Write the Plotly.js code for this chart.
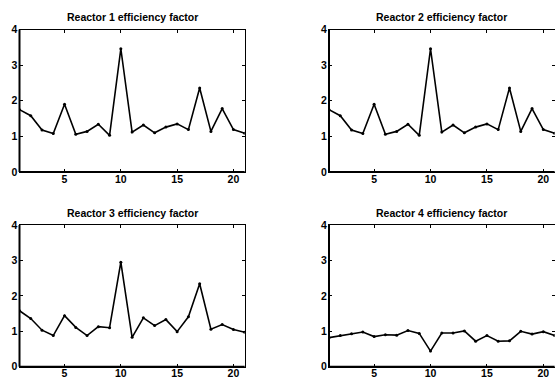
<!DOCTYPE html>
<html>
<head>
<meta charset="utf-8">
<script src="https://cdn.plot.ly/plotly-3.0.1.min.js"></script>
<style>html,body{margin:0;padding:0;background:#fff;}#chart{width:555px;height:379px;}</style>
</head>
<body>
<div id="chart"></div>
<script>
const samples = [1,2,3,4,5,6,7,8,9,10,11,12,13,14,15,16,17,18,19,20,21];
const titles = ["Reactor 1 efficiency factor","Reactor 2 efficiency factor","Reactor 3 efficiency factor","Reactor 4 efficiency factor"];
const reactor1 = [1.75,1.58,1.18,1.08,1.90,1.06,1.14,1.34,1.03,3.46,1.12,1.32,1.10,1.26,1.35,1.19,2.36,1.14,1.78,1.19,1.09];
const reactor2 = [1.75,1.58,1.18,1.08,1.90,1.06,1.14,1.34,1.03,3.46,1.12,1.32,1.10,1.26,1.35,1.19,2.36,1.14,1.78,1.19,1.09];
const reactor3 = [1.58,1.36,1.03,0.88,1.44,1.11,0.88,1.13,1.10,2.95,0.83,1.38,1.16,1.33,0.99,1.41,2.34,1.06,1.19,1.05,0.97];
const reactor4 = [0.82,0.88,0.93,0.98,0.85,0.90,0.89,1.02,0.94,0.44,0.95,0.95,1.01,0.72,0.88,0.72,0.73,1.00,0.92,0.99,0.88];
const yTickVals = [0,1,2,3,4];
const xTickVals = [5,10,15,20];

const series = [reactor1, reactor2, reactor3, reactor4];
const W = 555, H = 379;
const xd = [[19.5/W, 244.7/W],[329/W, 554.6/W]];
const yd = [[1-172/H, 1-29.5/H],[1-366.7/H, 1-225/H]];
const titleY = [1-17/H, 1-213.3/H];

const traces = [];
const layout = {
  width: W, height: H,
  margin: {l:0, r:0, t:0, b:0},
  paper_bgcolor: '#fff', plot_bgcolor: '#fff',
  showlegend: false,
  font: {family: 'Liberation Sans, Arial, sans-serif', color: '#000'},
  annotations: [], shapes: []
};
series.forEach((vals, i) => {
  const n = i + 1;
  const sfx = n === 1 ? '' : String(n);
  const col = i % 2, row = Math.floor(i / 2);
  traces.push({
    x: samples, y: vals, type: 'scatter', mode: 'lines+markers',
    xaxis: 'x' + sfx, yaxis: 'y' + sfx,
    line: {color: '#000', width: 1.6},
    marker: {color: '#000', size: 3},
    hoverinfo: 'skip'
  });
  const common = {
    showgrid: false, zeroline: false, showline: true, linecolor: '#000', linewidth: 1,
    mirror: 'ticks', ticks: 'inside', ticklen: 3, tickwidth: 1, tickcolor: '#000',
    tickfont: {family: 'Liberation Sans, Arial, sans-serif', size: 10.5, color: '#000', weight: 'bold'},
    fixedrange: true
  };
  layout['xaxis' + sfx] = Object.assign({}, common, {
    domain: xd[col], range: [1, 21], tickvals: xTickVals, anchor: 'y' + sfx,
    ticklabelstandoff: -3
  });
  layout['yaxis' + sfx] = Object.assign({}, common, {
    domain: yd[row], range: [0, 4], tickvals: yTickVals, anchor: 'x' + sfx,
    ticklabelstandoff: -1
  });
  layout.annotations.push({
    text: titles[i], xref: 'paper', yref: 'paper',
    x: (xd[col][0] + xd[col][1]) / 2, y: titleY[row],
    xanchor: 'center', yanchor: 'middle', showarrow: false,
    font: {family: 'Liberation Sans, Arial, sans-serif', size: 10.5, color: '#000', weight: 'bold'}
  });
  layout.shapes.push({type: 'line', xref: 'x' + sfx + ' domain', yref: 'y' + sfx + ' domain',
    x0: 0, x1: 0, y0: 0, y1: 1, line: {color: '#000', width: 2}});
  layout.shapes.push({type: 'line', xref: 'x' + sfx + ' domain', yref: 'y' + sfx + ' domain',
    x0: 0, x1: 1, y0: 0, y1: 0, line: {color: '#000', width: 2}});
});
Plotly.newPlot('chart', traces, layout, {staticPlot: true, displayModeBar: false});
</script>
</body>
</html>
